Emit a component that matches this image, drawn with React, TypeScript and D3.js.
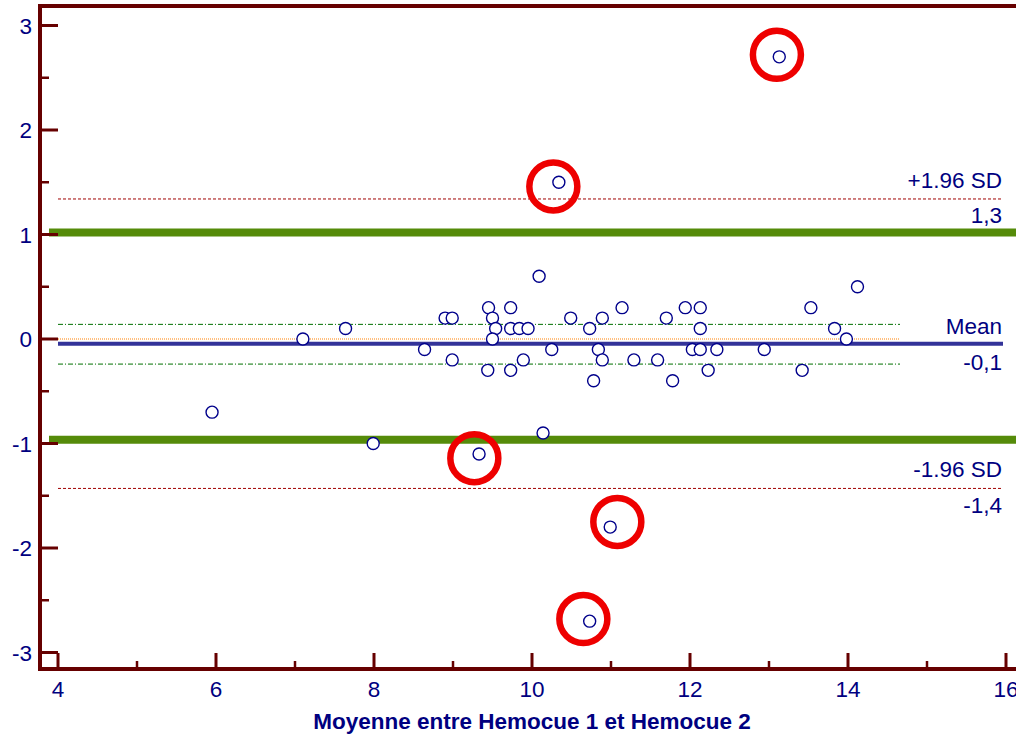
import React from "react";
import * as d3 from "d3";

// mean of the two Hemocue readings, difference between them
const means = [
  5.95, 7.1, 7.64, 7.99, 8.64, 8.9, 8.99, 8.99, 9.45, 9.5, 9.54, 9.5, 9.44,
  9.73, 9.73, 9.84, 9.95, 9.73, 9.89, 10.09, 10.25, 10.14, 10.34, 10.49, 10.73,
  10.84, 10.89, 10.78, 10.89, 11.14, 11.29, 11.59, 11.7, 11.78, 11.94, 12.03,
  12.13, 12.13, 12.13, 12.23, 12.34, 12.94, 13.13, 13.42, 13.53, 13.83, 13.98,
  14.12, 9.33, 10.99, 10.73,
];
const diffs = [
  -0.7, 0.0, 0.1, -1.0, -0.1, 0.2, 0.2, -0.2, 0.3, 0.2, 0.1, 0.0, -0.3,
  0.3, 0.1, 0.1, 0.1, -0.3, -0.2, 0.6, -0.1, -0.9, 1.5, 0.2, 0.1,
  -0.1, -0.2, -0.4, 0.2, 0.3, -0.2, -0.2, 0.2, -0.4, 0.3, -0.1,
  0.3, 0.1, -0.1, -0.3, -0.1, -0.1, 2.7, -0.3, 0.3, 0.1, 0.0,
  0.5, -1.1, -1.8, -2.7,
];

// hand-drawn red circles (centres)
const circledX = [10.27, 13.1, 9.27, 11.08, 10.65];
const circledY = [1.46, 2.72, -1.14, -1.75, -2.68];

const meanDiff = -0.045;
const upperSD = 1.34;
const lowerSD = -1.43;
const ciUpper = 0.14;
const ciLower = -0.24;
const limitUpper = 1.02;
const limitLower = -0.965;

const labelMean = ["Mean", "-0,1"];
const labelUpper = ["+1.96 SD", "1,3"];
const labelLower = ["-1.96 SD", "-1,4"];

const xMajor = [4, 6, 8, 10, 12, 14, 16];
const xMinor = [5, 7, 9, 11, 13, 15];
const yMajor = [-3, -2, -1, 0, 1, 2, 3];
const yMinor = [-2.5, -1.5, -0.5, 0.5, 1.5, 2.5];

const width = 1016, height = 735;
const font = "'Liberation Sans', Arial, sans-serif";
const navy = "#000080";
const axisCol = "#660000";

export default function App() {
  const x = d3.scaleLinear().domain([4, 16]).range([58, 1006]);
  const y = d3.scaleLinear().domain([-3, 3]).range([652.5, 25.5]);

  const axisX = 40, axisTop = 6, axisBottom = 669;
  const lineStart = x(4), lineEnd = 1003, shortEnd = 900;
  const labelX = 1002;

  const hline = (v, x1, x2, stroke, sw, dash) => (
    <line x1={x1} x2={x2} y1={y(v)} y2={y(v)} stroke={stroke} strokeWidth={sw} strokeDasharray={dash} />
  );

  return (
    <svg width={width} height={height} style={{ position: "absolute", left: 0, top: 0, background: "#fff" }}>
      {/* limit lines */}
      {hline(limitUpper, 49, width, "#558b0a", 8)}
      {hline(limitLower, 49, width, "#558b0a", 8)}
      {hline(upperSD, lineStart, lineEnd, "#a00000", 1, "3,2")}
      {hline(lowerSD, lineStart, lineEnd, "#a00000", 1, "3,2")}
      {hline(ciUpper, lineStart, shortEnd, "#007000", 1, "5,2,1,2")}
      {hline(ciLower, lineStart, shortEnd, "#007000", 1, "5,2,1,2")}
      {hline(0, lineStart, shortEnd, "#ff8000", 1, "1,1")}
      {hline(meanDiff, lineStart, lineEnd, "#333399", 4)}

      {/* right labels */}
      <g fontFamily={font} fontSize={22.5} fill={navy} textAnchor="end">
        <text x={labelX} y={y(upperSD) - 11}>{labelUpper[0]}</text>
        <text x={labelX} y={y(upperSD) + 24}>{labelUpper[1]}</text>
        <text x={labelX} y={y(meanDiff) - 10}>{labelMean[0]}</text>
        <text x={labelX} y={y(meanDiff) + 26}>{labelMean[1]}</text>
        <text x={labelX} y={y(lowerSD) - 11}>{labelLower[0]}</text>
        <text x={labelX} y={y(lowerSD) + 25}>{labelLower[1]}</text>
      </g>

      {/* points */}
      {means.map((m, i) => (
        <circle key={i} cx={x(m)} cy={y(diffs[i])} r={6} fill="#fff" stroke="#00008b" strokeWidth={1.4} />
      ))}

      {/* red annotations */}
      {circledX.map((cx, i) => (
        <circle key={"r" + i} cx={x(cx)} cy={y(circledY[i])} r={24} fill="none" stroke="#ee0000" strokeWidth={6.5} />
      ))}

      {/* axes */}
      <g stroke={axisCol}>
        <line x1={axisX} x2={axisX} y1={axisTop - 2} y2={axisBottom + 2} strokeWidth={4} />
        <line x1={axisX - 2} x2={width} y1={axisTop} y2={axisTop} strokeWidth={4} />
        <line x1={axisX - 2} x2={width} y1={axisBottom} y2={axisBottom} strokeWidth={4} />
        {yMajor.map(v => <line key={"ym" + v} x1={axisX} x2={axisX + 18} y1={y(v)} y2={y(v)} strokeWidth={3} />)}
        {yMinor.map(v => <line key={"yn" + v} x1={axisX} x2={axisX + 9} y1={y(v)} y2={y(v)} strokeWidth={2.5} />)}
        {xMajor.map(v => <line key={"xm" + v} x1={x(v)} x2={x(v)} y1={axisBottom} y2={axisBottom - 16} strokeWidth={3} />)}
        {xMinor.map(v => <line key={"xn" + v} x1={x(v)} x2={x(v)} y1={axisBottom} y2={axisBottom - 8} strokeWidth={2.5} />)}
      </g>

      <g fontFamily={font} fontSize={22.5} fill={navy}>
        {yMajor.map(v => (
          <text key={"yl" + v} x={32} y={y(v) + 8} textAnchor="end">{v}</text>
        ))}
        {xMajor.map(v => (
          <text key={"xl" + v} x={x(v)} y={697} textAnchor="middle">{v}</text>
        ))}
      </g>

      <text x={532} y={729} textAnchor="middle" fontFamily={font} fontSize={22.5} fontWeight="bold" fill={navy}>
        Moyenne entre Hemocue 1 et Hemocue 2
      </text>
    </svg>
  );
}
